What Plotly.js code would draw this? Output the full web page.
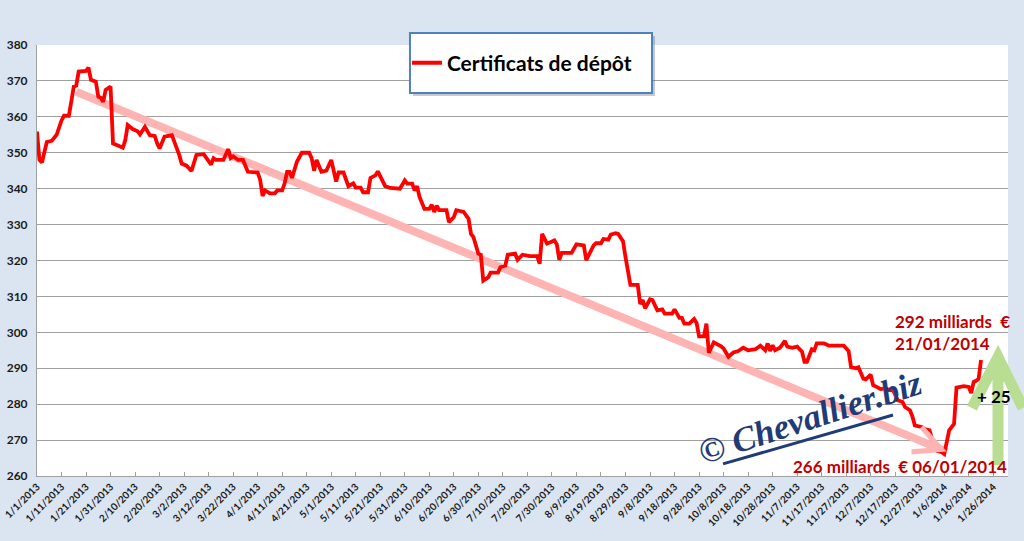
<!DOCTYPE html>
<html>
<head>
<meta charset="utf-8">
<script src="https://cdn.plot.ly/plotly-3.0.1.min.js"></script>
<style>
  html, body { margin: 0; padding: 0; background: #dbe5f1; }
  #chart { width: 1024px; height: 541px; }
</style>
</head>
<body>
<div id="chart"></div>
<script>
// days counted from 1 Jan 2013, values in billions of euros
const startDate = '2013-01-01';
const days = [
  0, 1, 2, 4, 6, 8, 10, 11, 13, 14,
  15, 16, 17, 20, 21, 22, 24, 25, 26, 27,
  28, 30, 31, 33, 35, 36, 37, 39, 41, 42,
  44, 46, 48, 49, 50, 52, 55, 58, 59, 61,
  63, 65, 68, 71, 72, 73, 76, 78, 79, 80,
  82, 84, 86, 90, 91, 92, 93, 95, 97, 98,
  100, 101, 102, 103, 104, 106, 108, 111, 112, 113,
  114, 116, 118, 120, 122, 123, 125, 127, 129, 130,
  132, 133, 135, 136, 138, 139, 142, 144, 146, 148,
  150, 151, 153, 154, 155, 156, 158, 160, 161, 162,
  163, 164, 167, 168, 170, 171, 174, 176, 177, 178,
  180, 181, 182, 184, 185, 188, 189, 191, 192, 195,
  196, 198, 201, 204, 205, 206, 208, 211, 212, 213,
  214, 218, 220, 223, 224, 227, 228, 230, 231, 233,
  234, 236, 237, 239, 240, 242, 245, 246, 247, 248,
  250, 251, 253, 255, 256, 259, 260, 262, 263, 264,
  266, 268, 269, 270, 272, 273, 274, 276, 279, 280,
  282, 284, 286, 288, 290, 293, 295, 297, 298, 299,
  300, 301, 303, 305, 306, 308, 310, 312, 313, 314,
  316, 317, 318, 321, 323, 326, 329, 331, 332, 334,
  335, 337, 338, 340, 341, 343, 344, 346, 348, 349,
  351, 353, 354, 356, 357, 358, 361, 362, 364, 365,
  366, 367, 369, 370, 372, 374, 375, 378, 380, 381,
  382, 383, 384, 385
];
const values = [
  355.9, 348, 347.3, 353, 353.3, 355, 359, 360.3, 360.3, 363.8,
  368.4, 368.7, 372.6, 372.8, 373.7, 370.3, 369.8, 365.6, 365.3, 364.2,
  367.5, 368.4, 352.6, 352, 351.4, 353.5, 357.7, 356.6, 356, 355.1,
  357.2, 354.9, 354.7, 352.6, 351.2, 354.5, 354.9, 349.4, 347, 346.4,
  344.9, 349.4, 349.6, 346.7, 348.5, 348, 348, 351, 348.5, 349,
  348, 348, 344.7, 344.5, 342.5, 338, 339.5, 338.7, 338.7, 339.5,
  339.5, 341.5, 344.7, 344.7, 343, 347.5, 350, 350, 348.5, 345,
  348, 344.7, 345, 348, 342, 344.5, 344.5, 340.7, 341.5, 340.3,
  340.3, 339, 339, 343, 343.7, 344.8, 340.7, 340.2, 340, 340,
  342.3, 341.4, 341.4, 339.5, 340.7, 337.7, 334.4, 334.4, 335.5, 333.5,
  335.3, 334, 334, 330.7, 332.1, 334, 333.5, 331.6, 327.4, 326.5,
  321.9, 321.6, 314.4, 315.3, 316.6, 316.6, 318.1, 318.6, 321.6, 321.9,
  320.2, 321.6, 321.2, 321.2, 319.1, 327.4, 324.7, 325.6, 324.5, 320.2,
  322.1, 322.1, 324.5, 324.2, 320.1, 324.2, 324.8, 324.8, 326, 325.8,
  327.2, 327.6, 327.4, 325.4, 321, 313.2, 313.2, 307.9, 309, 306.7,
  309.2, 309, 306.1, 306.4, 305.2, 305.2, 306.4, 304, 304, 302.4,
  302.4, 303.7, 302.6, 298.9, 298.9, 302.4, 294.3, 297.2, 296.1, 295.5,
  293.2, 294.4, 294.8, 295.7, 295, 295.3, 296.3, 295, 296.9, 294.8,
  296.4, 295, 295.7, 297.6, 296, 295.7, 296, 294.6, 291.8, 291.8,
  295.3, 295, 296.9, 296.9, 296.3, 296.3, 296.3, 294.8, 290.3, 290,
  290.3, 287.1, 286.9, 288.2, 285.3, 284.6, 284.2, 284.4, 283.9, 284.1,
  281.1, 280.6, 279.2, 278.3, 276.6, 274.1, 273.6, 273.1, 272.7, 270.3,
  268, 267, 266.6, 266.1, 272.7, 274.5, 284.6, 285, 284.8, 283.1,
  286.2, 286.5, 287, 292.3
];

// pink trend line (start and end)
const trendDays = [16, 371];
const trendValues = [367, 266.8];

const tickLabels = [
  '1/1/2013', '1/11/2013', '1/21/2013', '1/31/2013', '2/10/2013', '2/20/2013',
  '3/2/2013', '3/12/2013', '3/22/2013', '4/1/2013', '4/11/2013', '4/21/2013',
  '5/1/2013', '5/11/2013', '5/21/2013', '5/31/2013', '6/10/2013', '6/20/2013',
  '6/30/2013', '7/10/2013', '7/20/2013', '7/30/2013', '8/9/2013', '8/19/2013',
  '8/29/2013', '9/8/2013', '9/18/2013', '9/28/2013', '10/8/2013', '10/18/2013',
  '10/28/2013', '11/7/2013', '11/17/2013', '11/27/2013', '12/7/2013', '12/17/2013',
  '12/27/2013', '1/6/2014', '1/16/2014', '1/26/2014'
];

function dayToDate(d) {
  let t = new Date(startDate + 'T00:00:00Z');
  t.setUTCDate(t.getUTCDate() + d);
  return t.toISOString().slice(0, 10);
}
function labelToDate(s) {
  let p = s.split('/');
  return p[2] + '-' + p[0].padStart(2, '0') + '-' + p[1].padStart(2, '0');
}

const dates = days.map(dayToDate);
const trendDates = trendDays.map(dayToDate);
const tickVals = tickLabels.map(labelToDate);

const font = 'Lato, "Open Sans", "Liberation Sans", sans-serif';
const darkRed = '#c00000';
const pink = '#ffb4b4';
const navy = '#1f3b78';

const trend = {
  x: trendDates,
  y: trendValues,
  type: 'scatter',
  mode: 'lines',
  line: { color: pink, width: 8 },
  showlegend: false,
  hoverinfo: 'skip'
};

const serie = {
  x: dates,
  y: values,
  type: 'scatter',
  mode: 'lines',
  name: 'Certificats de dépôt',
  line: { color: '#ff0000', width: 3.8 }
};

// arrow head at the end of the trend line, a little before the end point
const k = 0.03;
const headFromX = dayToDate(Math.round(trendDays[1] - (trendDays[1] - trendDays[0]) * k));
const headFromY = trendValues[1] - (trendValues[1] - trendValues[0]) * k;

const layout = {
  width: 1024,
  height: 541,
  paper_bgcolor: '#dbe5f1',
  plot_bgcolor: '#ffffff',
  margin: { l: 37, r: 16, t: 45, b: 65 },
  font: { family: font, color: '#1a1a1a' },
  showlegend: true,
  legend: {
    x: 0.381, y: 0.958, xanchor: 'left', yanchor: 'middle',
    bgcolor: 'rgba(0,0,0,0)', borderwidth: 0,
    font: { family: font, size: 21, weight: 'bold', color: '#000' }
  },
  xaxis: {
    type: 'date',
    range: ['2013-01-01', '2014-02-01'],
    tickvals: tickVals,
    ticktext: tickLabels,
    tickangle: -45,
    tickfont: { family: font, size: 10, weight: 'bold', color: '#1a1a1a' },
    showgrid: false,
    zeroline: false,
    showline: true,
    linecolor: '#a0a0a0',
    ticks: 'inside',
    ticklen: 4,
    tickcolor: '#a0a0a0'
  },
  yaxis: {
    range: [260, 380],
    dtick: 10,
    tickfont: { family: font, size: 12, weight: 'bold', color: '#1a1a1a' },
    gridcolor: '#a0a0a0',
    showline: true,
    linecolor: '#a0a0a0',
    zeroline: false,
    ticklabelstandoff: 6
  },
  shapes: [
    // legend box with its shadow
    { type: 'rect', xref: 'paper', yref: 'paper', x0: 0.3872, x1: 0.6365, y0: 0.8816, y1: 1.0208,
      fillcolor: 'rgba(70,80,100,0.3)', line: { width: 0 }, layer: 'above' },
    { type: 'rect', xref: 'paper', yref: 'paper', x0: 0.3841, x1: 0.6334, y0: 0.8886, y1: 1.0278,
      fillcolor: '#ffffff', line: { color: '#4f81bd', width: 2 }, layer: 'above' },
    // underline of the watermark
    { type: 'line', xref: 'paper', yref: 'paper', x0: 0.7065, y0: 0.028, x1: 0.8816, y1: 0.1415,
      line: { color: navy, width: 3 }, layer: 'above' },
    // green up arrow
    { type: 'path', xref: 'paper', yref: 'paper', layer: 'above',
      path: 'M 0.9629 0.1578 L 0.9897 0.2761 L 1.0154 0.1578 M 0.9897 0.2700 L 0.9897 0.0255',
      line: { color: '#b9dd93', width: 11 } }
  ],
  annotations: [
    { x: trendDates[1], y: trendValues[1], ax: headFromX, ay: headFromY,
      xref: 'x', yref: 'y', axref: 'x', ayref: 'y', text: '',
      showarrow: true, arrowhead: 5, arrowsize: 0.75, arrowwidth: 7, arrowcolor: pink },
    { xref: 'paper', yref: 'paper', x: 0.797, y: 0.135, xanchor: 'center', yanchor: 'middle',
      text: '<i>© Chevallier.biz</i>', textangle: -18, showarrow: false,
      font: { family: '"Liberation Serif", "DejaVu Serif", serif', size: 35, weight: 'bold', color: navy } },
    { xref: 'paper', yref: 'paper', x: 0.8816, y: 0.334, xanchor: 'left', yanchor: 'middle', align: 'left',
      text: '292 milliards  €<br>21/01/2014', showarrow: false,
      font: { family: font, size: 17, weight: 'bold', color: darkRed } },
    { xref: 'paper', yref: 'paper', x: 0.7765, y: 0.021, xanchor: 'left', yanchor: 'middle',
      text: '266 milliards  € 06/01/2014', showarrow: false,
      font: { family: font, size: 17, weight: 'bold', color: darkRed } },
    { xref: 'paper', yref: 'paper', x: 0.966, y: 0.1856, xanchor: 'left', yanchor: 'middle',
      text: '+ 25', showarrow: false,
      font: { family: font, size: 17, weight: 'bold', color: '#000' } }
  ]
};

Plotly.newPlot('chart', [trend, serie], layout, { staticPlot: true, displayModeBar: false });
</script>
</body>
</html>
